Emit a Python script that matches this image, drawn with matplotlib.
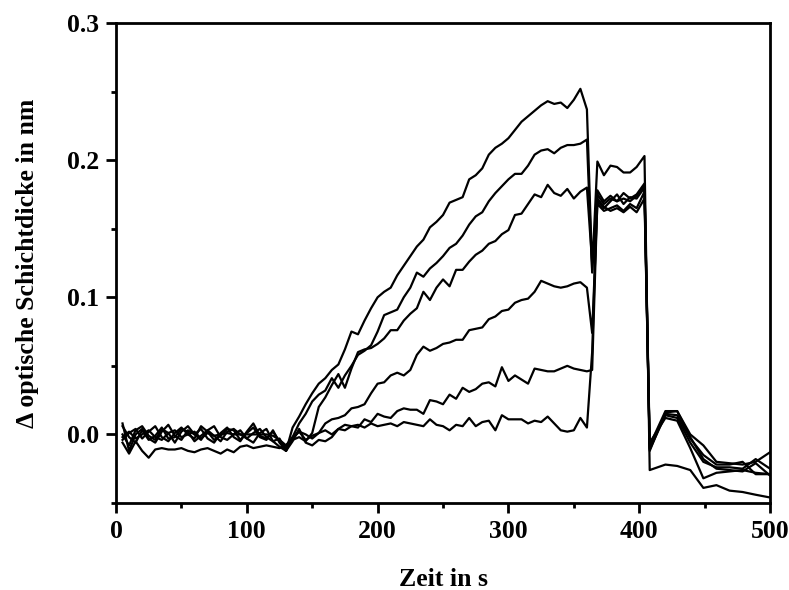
import matplotlib
matplotlib.use("Agg")
import matplotlib.pyplot as plt
import numpy as np
from matplotlib.ticker import MultipleLocator

plt.rcParams["font.family"] = ["Liberation Serif", "DejaVu Serif"]
plt.rcParams["font.weight"] = "bold"

# sample times (s)
t_base = np.arange(5, 126, 5)      # 25 points, before injection
t_rise = np.arange(130, 361, 5)    # 47 points, adsorption
t_dip = [364]
t_plat = [368, 373, 378, 383, 388, 393, 398, 404]
t_post = [408, 420, 429, 439, 449, 459, 469, 479, 489, 500]

# six measurement curves (delta optical thickness, nm)
a_base = [0.006, -0.002, -0.006, 0.003, -0.004, -0.001, 0.005, -0.003, -0.002, 0.004, 0.002, -0.005, -0.001,
          0.003, 0.006, -0.002, -0.004, 0.000, 0.003, -0.003, 0.001, 0.004, -0.002, -0.005, -0.003]
a_rise = [-0.012, 0.005, 0.013, 0.022, 0.030, 0.037, 0.041, 0.047, 0.051, 0.062, 0.075, 0.073, 0.083, 0.092,
          0.100, 0.104, 0.107, 0.116, 0.123, 0.130, 0.137, 0.142, 0.151, 0.155, 0.160, 0.169, 0.171, 0.173,
          0.186, 0.189, 0.194, 0.204, 0.209, 0.212, 0.216, 0.222, 0.228, 0.232, 0.236, 0.240, 0.243, 0.241,
          0.242, 0.238, 0.244, 0.252, 0.237]
a_dip = [0.120]
a_plat = [0.199, 0.189, 0.196, 0.195, 0.191, 0.191, 0.195, 0.203]
a_post = [-0.026, -0.022, -0.023, -0.026, -0.039, -0.037, -0.041, -0.042, -0.044, -0.046]

b_base = [-0.004, 0.001, 0.004, -0.003, 0.002, 0.006, -0.002, -0.005, 0.001, 0.005, 0.000, -0.003, 0.006,
          0.002, -0.004, -0.001, 0.004, 0.003, -0.004, 0.001, 0.005, -0.002, -0.004, 0.003, -0.006]
b_rise = [-0.012, -0.002, 0.008, 0.015, 0.024, 0.029, 0.032, 0.041, 0.034, 0.043, 0.050, 0.058, 0.061, 0.065,
          0.075, 0.087, 0.089, 0.091, 0.100, 0.107, 0.118, 0.115, 0.121, 0.125, 0.130, 0.136, 0.139, 0.145,
          0.153, 0.159, 0.162, 0.170, 0.176, 0.181, 0.186, 0.190, 0.190, 0.196, 0.204, 0.207, 0.208, 0.205,
          0.209, 0.211, 0.211, 0.212, 0.215]
b_dip = [0.118]
b_plat = [0.175, 0.168, 0.172, 0.170, 0.176, 0.172, 0.175, 0.183]
b_post = [-0.012, 0.016, 0.017, 0.000, -0.008, -0.020, -0.021, -0.022, -0.020, -0.013]

c_base = [0.008, -0.012, 0.000, 0.004, -0.003, -0.006, 0.002, 0.007, -0.001, -0.004, 0.003, 0.000, 0.004,
          -0.003, -0.006, 0.001, 0.005, -0.002, -0.005, 0.002, 0.008, -0.001, -0.003, 0.002, -0.005]
c_rise = [-0.010, -0.004, -0.002, -0.005, 0.001, 0.020, 0.027, 0.036, 0.044, 0.034, 0.048, 0.060, 0.062, 0.063,
          0.066, 0.070, 0.076, 0.076, 0.083, 0.088, 0.092, 0.104, 0.098, 0.107, 0.113, 0.108, 0.120, 0.120,
          0.126, 0.131, 0.134, 0.139, 0.141, 0.146, 0.149, 0.160, 0.161, 0.168, 0.175, 0.173, 0.182, 0.176,
          0.174, 0.179, 0.172, 0.177, 0.180]
c_dip = [0.125]
c_plat = [0.170, 0.165, 0.170, 0.175, 0.168, 0.173, 0.172, 0.180]
c_post = [-0.010, 0.015, 0.014, -0.003, -0.015, -0.022, -0.022, -0.020, -0.029, -0.029]

d_base = [-0.006, -0.014, -0.005, -0.012, -0.017, -0.011, -0.010, -0.011, -0.011, -0.010, -0.012, -0.013, -0.011,
          -0.010, -0.012, -0.014, -0.011, -0.013, -0.009, -0.008, -0.010, -0.009, -0.008, -0.009, -0.010]
d_rise = [-0.008, -0.003, 0.002, -0.004, -0.001, 0.001, 0.008, 0.011, 0.012, 0.014, 0.019, 0.020, 0.022, 0.030,
          0.037, 0.038, 0.043, 0.045, 0.043, 0.047, 0.058, 0.064, 0.061, 0.063, 0.066, 0.067, 0.069, 0.069,
          0.076, 0.077, 0.078, 0.084, 0.086, 0.090, 0.091, 0.096, 0.098, 0.099, 0.104, 0.112, 0.110, 0.108,
          0.107, 0.108, 0.110, 0.111, 0.107]
d_dip = [0.074]
d_plat = [0.168, 0.163, 0.165, 0.167, 0.163, 0.168, 0.165, 0.177]
d_post = [-0.011, 0.014, 0.012, -0.006, -0.020, -0.024, -0.024, -0.025, -0.018, -0.025]

e_base = [0.000, -0.008, 0.003, 0.006, -0.001, -0.004, 0.004, 0.001, -0.006, 0.002, 0.006, 0.000, -0.004,
          0.003, -0.001, -0.005, 0.002, 0.004, 0.000, -0.003, -0.006, 0.001, 0.004, -0.005, -0.009]
e_rise = [-0.012, -0.005, 0.004, -0.006, -0.008, -0.004, -0.005, -0.002, 0.004, 0.007, 0.006, 0.005, 0.011, 0.009,
          0.015, 0.013, 0.012, 0.017, 0.019, 0.018, 0.018, 0.015, 0.025, 0.024, 0.022, 0.029, 0.026, 0.034,
          0.031, 0.033, 0.037, 0.038, 0.035, 0.049, 0.039, 0.043, 0.040, 0.037, 0.048, 0.047, 0.046, 0.046,
          0.048, 0.050, 0.048, 0.047, 0.046]
e_dip = [0.047]
e_plat = [0.172, 0.166, 0.163, 0.165, 0.162, 0.166, 0.162, 0.172]
e_post = [-0.008, 0.017, 0.017, -0.002, -0.018, -0.025, -0.026, -0.027, -0.021, -0.030]

f_base = [-0.002, 0.002, -0.003, 0.000, 0.003, -0.002, -0.004, 0.001, 0.003, -0.002, 0.000, 0.002, -0.003,
          0.001, -0.001, 0.000, 0.001, 0.000, 0.000, 0.000, 0.000, 0.000, 0.000, -0.001, -0.004]
f_rise = [-0.008, -0.002, 0.002, 0.000, -0.003, 0.001, 0.003, 0.000, 0.004, 0.003, 0.006, 0.007, 0.005, 0.008,
          0.006, 0.007, 0.008, 0.006, 0.009, 0.008, 0.007, 0.006, 0.011, 0.007, 0.006, 0.003, 0.007, 0.006,
          0.012, 0.006, 0.009, 0.010, 0.003, 0.014, 0.011, 0.011, 0.011, 0.008, 0.010, 0.009, 0.013, 0.008,
          0.003, 0.002, 0.003, 0.012, 0.005]
f_dip = [0.060]
f_plat = [0.178, 0.170, 0.174, 0.170, 0.172, 0.170, 0.174, 0.182]
f_post = [-0.006, 0.012, 0.010, -0.010, -0.032, -0.028, -0.027, -0.026, -0.028, -0.029]

curves = [
    (a_base, a_rise, a_dip, a_plat, a_post),
    (b_base, b_rise, b_dip, b_plat, b_post),
    (c_base, c_rise, c_dip, c_plat, c_post),
    (d_base, d_rise, d_dip, d_plat, d_post),
    (e_base, e_rise, e_dip, e_plat, e_post),
    (f_base, f_rise, f_dip, f_plat, f_post),
]

time = np.concatenate([t_base, t_rise, t_dip, t_plat, t_post])

fig = plt.figure(figsize=(7.89, 5.90), dpi=100)
ax = fig.add_axes([0.147, 0.1475, 0.829, 0.8135])

for parts in curves:
    y = np.concatenate(parts)
    ax.plot(time, y, color="black", lw=1.6)

ax.set_xlim(0, 500)
ax.set_ylim(-0.05, 0.3)
ax.xaxis.set_major_locator(MultipleLocator(100))
ax.xaxis.set_minor_locator(MultipleLocator(50))
ax.yaxis.set_major_locator(MultipleLocator(0.1))
ax.yaxis.set_minor_locator(MultipleLocator(0.05))
ax.yaxis.set_major_formatter(plt.FormatStrFormatter("%.1f"))

for s in ax.spines.values():
    s.set_linewidth(2)
ax.tick_params(which="both", direction="out", top=False, right=False, width=2, labelsize=18.5)
ax.tick_params(which="major", length=7, pad=5)
ax.tick_params(which="minor", length=3.5)

ax.set_xlabel("Zeit in s", fontsize=18.5, fontweight="bold", labelpad=18)
ax.set_ylabel("Δ optische Schichtdicke in nm", fontsize=18.5, fontweight="bold", labelpad=20)

fig.savefig("out.png", dpi=100)
